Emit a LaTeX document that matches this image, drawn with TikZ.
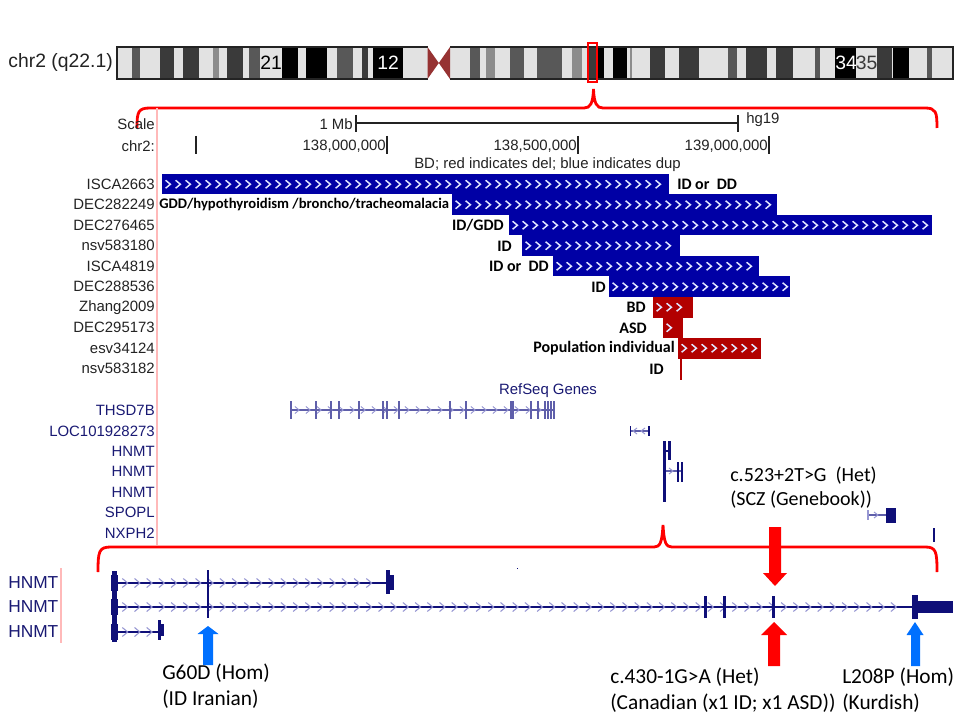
\documentclass[tikz,border=0pt]{standalone}
\usepackage{fontspec}
\setmainfont{Liberation Sans}
\newfontfamily\calib{Carlito}
\definecolor{bL}{RGB}{226,226,226}
\definecolor{bG}{RGB}{88,88,88}
\definecolor{bD}{RGB}{58,58,58}
\definecolor{bM}{RGB}{140,140,140}
\definecolor{bK}{RGB}{0,0,0}
\definecolor{cenred}{RGB}{150,50,50}
\definecolor{dupblue}{RGB}{0,0,165}
\definecolor{delred}{RGB}{178,0,0}
\definecolor{labgray}{RGB}{35,35,35}
\definecolor{genetext}{RGB}{25,25,115}
\definecolor{genecol}{RGB}{95,95,170}
\definecolor{genechev}{RGB}{150,150,210}
\definecolor{navy}{RGB}{15,15,120}
\definecolor{pinkline}{RGB}{255,185,185}
\definecolor{arrblue}{RGB}{0,112,255}
\definecolor{chevw}{RGB}{225,230,255}
\newcommand\chevrow[6]{%
  \pgfmathtruncatemacro\nch{floor((#3-(#2))/#4)}%
  \foreach \k in {0,...,\nch}{%
    \pgfmathsetmacro\cx{#2+#4*\k}%
    \draw[#6] (\cx-0.6*#5,#1-#5) -- (\cx+0.6*#5,#1) -- (\cx-0.6*#5,#1+#5);
  }}
\newcommand\cnvbar[4]{%
  \pgfmathsetmacro\yt{174+20.5*#1}%
  \pgfmathsetmacro\yc{\yt+10.25}%
  \fill[#4] (#2,\yt) rectangle (#3,\yt+20.5);
  \chevrow{\yc}{#2+6}{#3-5}{10}{4}{chevw,line width=1.1}}
\begin{document}
\begin{tikzpicture}[x=0.75pt,y=-0.75pt,
  font=\fontsize{11.2}{13}\selectfont,
  lbl/.style={anchor=east,inner sep=0pt,text=labgray},
  glbl/.style={anchor=east,inner sep=0pt,text=genetext},
  ann/.style={inner sep=0pt,font=\calib\bfseries\fontsize{12}{14}\selectfont},
  note/.style={anchor=west,inner sep=0pt,font=\calib\fontsize{16}{19}\selectfont},
  brace/.style={red,line width=2.8pt*0.75},
  ]
\useasboundingbox[fill=white] (0,0) rectangle (960,720);

% ---------------- ideogram
\node[anchor=east,inner sep=0pt,text=labgray,font=\fontsize{14.5}{16}\selectfont] (chrlab) at (113,63) {chr2 (q22.1)};
\foreach \a/\b/\c in {117/132/bL,132/140/bG,140/160/bL,160/174/bD,174/183/bL,183/199/bD,199/213/bL,213/219/bM,219/227/bL,227/243/bD,243/249/bL,249/260/bG,260/282/bL,282/298/bK,298/306/bL,306/327/bK,327/337/bL,337/353/bG,353/362/bL,362/368/bD,368/373/bL,373/403/bK,403/427.5/bL,
450/470/bL,470/480/bG,480/486/bL,486/495/bM,495/510/bL,510/524/bG,524/537/bL,537/562/bG,562/572/bL,572/582/bM,582/588/bL,588/597/bD,597/604/bK,604/613/bL,613/627/bK,627/630/bL,630/632/bM,632/650/bL,650/665/bD,665/679/bL,679/699/bD,699/728/bL,728/737/bG,737/746/bL,746/767/bD,767/776/bL,776/793/bD,793/815/bL,815/820/bG,820/835/bL,835/856/bK,856/877/bL,877/892/bD,892/893/bL,893/909/bK,909/927/bL,927/932/bG,932/953/bL}
  {\fill[\c] (\a,47) rectangle (\b,79);}
\draw[line width=0.8pt,labgray] (427.5,47) -- (117,47) -- (117,79) -- (427.5,79);
\draw[line width=0.8pt,labgray] (450,47) -- (953,47) -- (953,79) -- (450,79);
\fill[cenred] (427.5,47) -- (438.8,63) -- (450,47) -- (450,79) -- (438.8,63) -- (427.5,79) -- cycle;
\node[inner sep=0pt,font=\fontsize{14.5}{16}\selectfont,text=black] (b21) at (271,63) {21};
\node[inner sep=0pt,font=\fontsize{14.5}{16}\selectfont,text=white] (b12) at (388,63) {12};
\node[inner sep=0pt,font=\fontsize{14.5}{16}\selectfont,text=white] (b34) at (846,63) {34};
\node[inner sep=0pt,font=\fontsize{14.5}{16}\selectfont,text=bD] (b35) at (866.5,63) {35};
\draw[red,line width=2.5pt*0.75] (588,43) rectangle (597,82);

% ---------------- top brace
\draw[brace] (137,128) .. controls (137,112) and (138,108) .. (150,108) -- (584,108)
  .. controls (590,108) and (593,104) .. (593.5,89) .. controls (594,104) and (597,108) .. (603,108)
  -- (925,108) .. controls (936,108) and (937,112) .. (937,128);

% ---------------- scale / coordinates
\draw[pinkline,line width=0.8pt] (157,108) -- (157,545);
\node[lbl] (scl) at (155,124) {Scale};
\node[lbl] (mb) at (353,124) {1 Mb};
\draw[labgray,line width=0.8pt] (356,115) -- (356,132);
\draw[labgray,line width=0.8pt] (738,115) -- (738,132);
\draw[labgray,line width=0.8pt] (356,123) -- (738,123);
\node[anchor=west,inner sep=0pt,text=labgray] (hg) at (746,120) {hg19};
\node[lbl] (chrc) at (155,146) {chr2:};
\foreach \t in {196,387,578,769} \draw[labgray,line width=0.8pt] (\t,136) -- (\t,154);
\node[lbl] (p1) at (386,146) {138,000,000};
\node[lbl] (p2) at (577,146) {138,500,000};
\node[lbl] (p3) at (768,146) {139,000,000};
\node[inner sep=0pt,text=labgray] (ttl) at (547.5,165) {BD; red indicates del; blue indicates dup};

% ---------------- CNV track
\cnvbar{0}{162}{669}{dupblue}
\cnvbar{1}{452}{777}{dupblue}
\cnvbar{2}{509}{932}{dupblue}
\cnvbar{3}{522}{680}{dupblue}
\cnvbar{4}{553}{759}{dupblue}
\cnvbar{5}{609}{790}{dupblue}
\cnvbar{6}{653}{693}{delred}
\cnvbar{7}{663}{683}{delred}
\cnvbar{8}{678}{761}{delred}
\fill[delred] (679.5,358.5) rectangle (681.5,380);
\foreach \i/\n in {0/ISCA2663,1/DEC282249,2/DEC276465,3/nsv583180,4/ISCA4819,5/DEC288536,6/Zhang2009,7/DEC295173,8/esv34124,9/nsv583182}
  {\node[lbl] (lab\i) at (155,184.25+20.5*\i) {\n};}
\node[ann,anchor=west] (a0) at (677,184.25) {ID or~~DD};
\node[ann,anchor=west,font=\calib\bfseries\fontsize{11}{13}\selectfont] (a1) at (159,205) {GDD/hypothyroidism /broncho/tracheomalacia};
\node[ann,anchor=east] (a2) at (504,225.5) {ID/GDD};
\node[ann,anchor=east] (a3) at (512,246) {ID};
\node[ann,anchor=east] (a4) at (549,266.5) {ID or~~DD};
\node[ann,anchor=east] (a5) at (606,287) {ID};
\node[ann,anchor=east] (a6) at (646,307.5) {BD};
\node[ann,anchor=east] (a7) at (647,328) {ASD};
\node[ann,anchor=east] (a8) at (675,348.5) {Population individual};
\node[ann,anchor=east] (a9) at (664,369) {ID};

% ---------------- RefSeq genes
\node[inner sep=0pt,text=genetext] (refseq) at (548,391) {RefSeq Genes};
\foreach \i/\n/\y in {0/THSD7B/410,1/LOC101928273/431,2/HNMT/451,3/HNMT/471,4/HNMT/492,5/SPOPL/512,6/NXPH2/533}
  {\node[glbl] (g\i) at (155,\y) {\n};}
% THSD7B
\draw[genecol,line width=0.8pt] (291,410) -- (555,410);
\chevrow{410}{297}{548}{11}{3.5}{genechev,line width=0.7pt}
\foreach \e in {291,316,331,339,359,511,513,531,545,551,554} \draw[genecol,line width=1.3pt] (\e,401) -- (\e,419);
\foreach \e in {383,387,399,450,466,538,548} \draw[genecol,line width=2pt] (\e,401) -- (\e,419);
% LOC101928273
\draw[genecol,line width=0.8pt] (630,431) -- (650,431);
\draw[genechev,line width=0.7pt] (637,428) -- (633,431) -- (637,434);
\draw[genechev,line width=0.7pt] (645,428) -- (641,431) -- (645,434);
\draw[navy,line width=1.3pt] (630.5,426) -- (630.5,436);
\draw[navy,line width=2pt] (649,426) -- (649,436);
% HNMT
\fill[navy] (663,441) rectangle (666,502);
\fill[navy] (668,441) rectangle (671,460);
\draw[navy,line width=0.8pt] (666,451) -- (668,451);
\draw[genecol,line width=0.8pt] (666,471) -- (683,471);
\draw[genechev,line width=0.7pt] (669,468) -- (673,471) -- (669,474);
\fill[navy] (677,462) rectangle (679,482);
\fill[navy] (681,462) rectangle (683,482);
% SPOPL
\draw[genecol,line width=0.8pt] (868,515) -- (887,515);
\draw[genechev,line width=0.8pt] (868,510) -- (868,520);
\draw[genechev,line width=0.7pt] (874,512) -- (878,515) -- (874,518);
\fill[navy] (886,508) rectangle (896,523);
% NXPH2
\fill[navy] (932.5,528) rectangle (934.5,542);

% ---------------- upper annotation
\node[anchor=west,inner sep=0pt,font=\calib\fontsize{15}{18}\selectfont] (het1) at (730,476) {c.523+2T>G~~(Het)};
\node[anchor=west,inner sep=0pt,font=\calib\fontsize{15}{18}\selectfont] (het2) at (730,500) {(SCZ (Genebook))};

% ---------------- lower brace
\draw[brace] (98,572) .. controls (98,551) and (99,547) .. (111,547) -- (654,547)
  .. controls (660,547) and (662,543) .. (663,525) .. controls (664,543) and (666,547) .. (672,547)
  -- (925,547) .. controls (936,547) and (937,551) .. (937,572);
\fill[navy] (516.5,567.5) rectangle (518,569);

% ---------------- zoomed HNMT gene models
\draw[pinkline,line width=0.8pt] (61,568) -- (61,643);
\foreach \y in {583,607,632} \node[anchor=west,inner sep=0pt,text=genetext,font=\fontsize{13}{15}\selectfont] (h\y) at (8,\y) {HNMT};
\draw[navy,line width=0.8pt] (117,583) -- (386,583);
\draw[navy,line width=0.8pt] (117,607) -- (912,607);
\draw[navy,line width=0.8pt] (117,632) -- (158,632);
\chevrow{583}{125}{380}{12.2}{4.5}{genechev,line width=0.8pt}
\chevrow{607}{125}{905}{12.2}{4.5}{genechev,line width=0.8pt}
\chevrow{632}{125}{154}{12.2}{4.5}{genechev,line width=0.8pt}
\fill[navy] (112,571) rectangle (116.5,642);
\foreach \y in {583,607,632} \fill[navy] (111,\y-8) rectangle (118,\y+8);
\fill[navy] (385.5,570) rectangle (390,594);
\fill[navy] (390,575) rectangle (393.5,590);
\fill[navy] (158,620) rectangle (161,640);
\fill[navy] (161,624) rectangle (163.5,636);
\foreach \e in {705.5,724.5,773.5} \draw[navy,line width=2.5pt*0.75] (\e,596) -- (\e,618);
\fill[navy] (912,595) rectangle (918,619);
\fill[navy] (918,601) rectangle (953,613);
\draw[navy,line width=0.8pt] (208,570) -- (208,618);

% ---------------- arrows
\fill[red] (769,527) -- (781,527) -- (781,573) -- (787,573) -- (775,586) -- (763,573) -- (769,573) -- cycle;
\fill[red] (774,622) -- (787,635) -- (780,635) -- (780,666) -- (768,666) -- (768,635) -- (761,635) -- cycle;
\fill[arrblue] (915,622) -- (923.5,635) -- (920,635) -- (920,666) -- (911,666) -- (911,635) -- (906.5,635) -- cycle;
\fill[arrblue] (208,626) -- (218.5,634) -- (213,634) -- (213,665) -- (203,665) -- (203,634) -- (197.5,634) -- cycle;

% ---------------- lower annotations
\node[note] (v1a) at (162,673) {G60D (Hom)};
\node[note] (v1b) at (162,699) {(ID Iranian)};
\node[note] (v2a) at (610,677) {c.430-1G>A (Het)};
\node[note] (v2b) at (610,703) {(Canadian (x1 ID; x1 ASD))};
\node[note] (v3a) at (842,677) {L208P (Hom)};
\node[note] (v3b) at (842,703) {(Kurdish)};
\end{tikzpicture}
\end{document}
